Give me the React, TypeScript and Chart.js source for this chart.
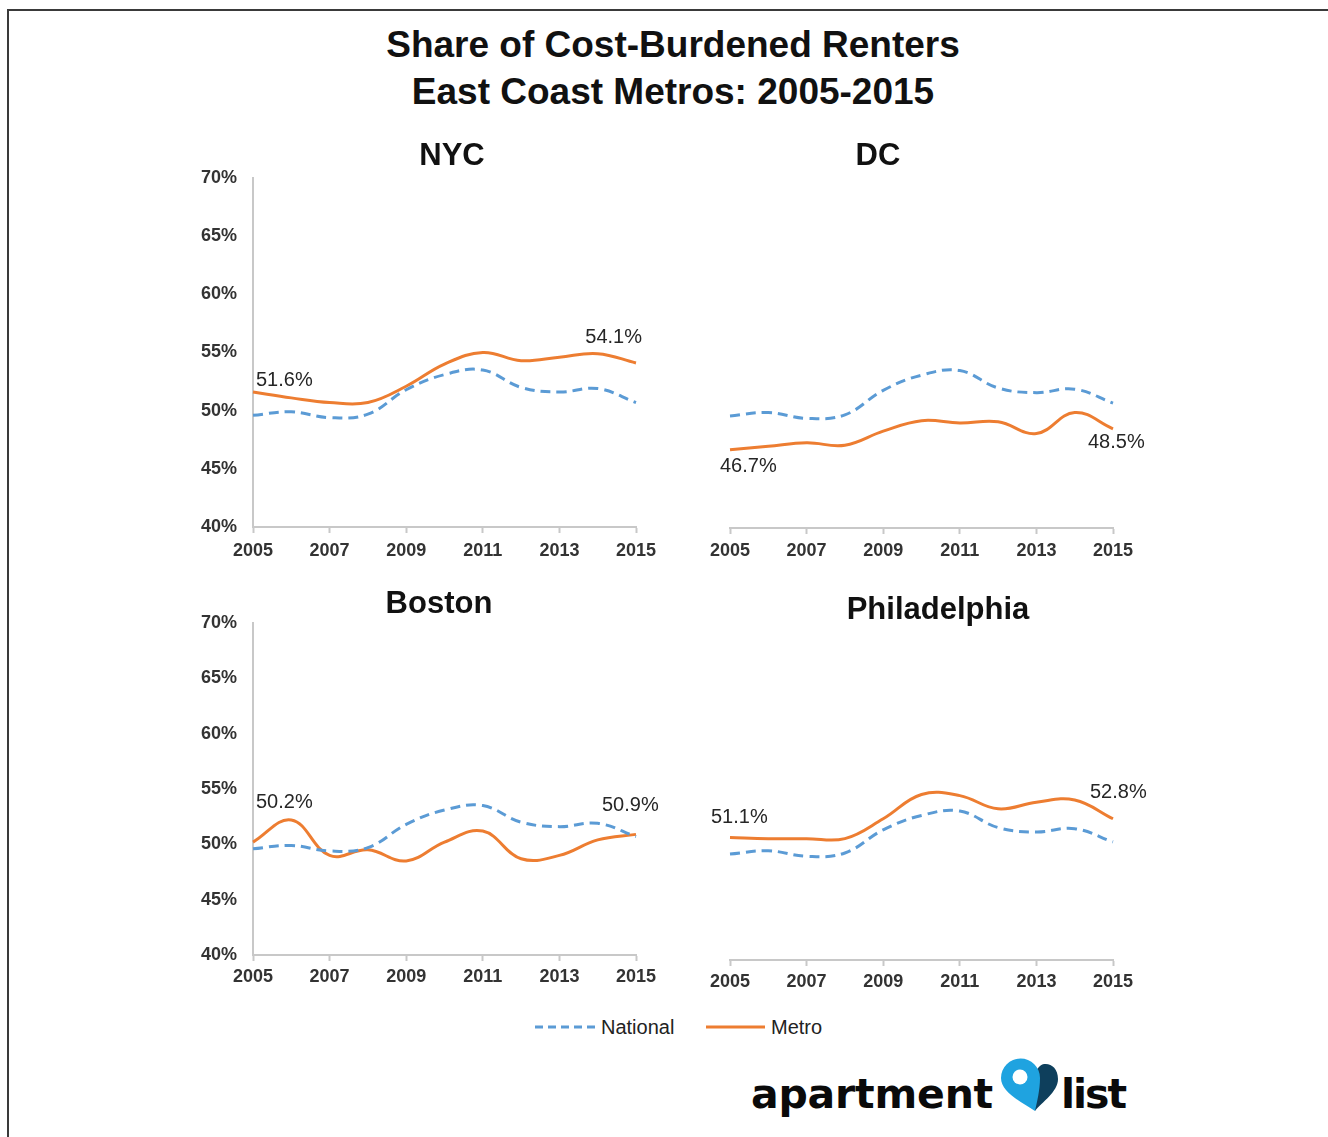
import React, { useEffect, useRef } from "react";
import { Chart, registerables } from "chart.js";

Chart.register(...registerables);

// ---------- data ----------
const years = ["2005", "2006", "2007", "2008", "2009", "2010", "2011", "2012", "2013", "2014", "2015"];
const nationalShare = [49.6, 49.9, 49.4, 49.7, 51.8, 53.1, 53.5, 52.0, 51.6, 51.9, 50.7];
const nycMetro = [51.6, 51.1, 50.7, 50.7, 52.1, 54.0, 55.0, 54.3, 54.6, 54.9, 54.1];
const dcMetro = [46.7, 47.0, 47.3, 47.1, 48.3, 49.2, 49.0, 49.1, 48.1, 49.9, 48.5];
const bostonMetro = [50.2, 52.2, 49.0, 49.5, 48.5, 50.2, 51.2, 48.7, 49.0, 50.4, 50.9];
const phillyMetro = [51.1, 51.0, 51.0, 51.0, 52.8, 55.0, 54.9, 53.7, 54.3, 54.5, 52.8];
const yMin = 40;
const yMax = 70;
const yStep = 5;
const seriesNames = ["National", "Metro"];

const BLUE = "#5B9BD5";
const ORANGE = "#ED7D31";
const FONT = 'Arial, "Liberation Sans", Helvetica, sans-serif';

type LabelSpec = { index: number; dx: number; dy: number; align: CanvasTextAlign };

const pointLabelPlugin = {
  id: "pointLabels",
  afterDatasetsDraw(chart: any, _args: any, opts: any) {
    const items: LabelSpec[] = opts.items || [];
    const ds = chart.data.datasets[opts.datasetIndex];
    const meta = chart.getDatasetMeta(opts.datasetIndex);
    const ctx = chart.ctx;
    items.forEach((it) => {
      const el = meta.data[it.index];
      if (!el) return;
      ctx.save();
      ctx.font = `20px ${FONT}`;
      ctx.fillStyle = "#262626";
      ctx.textAlign = it.align;
      ctx.textBaseline = "middle";
      ctx.fillText(`${Number(ds.data[it.index]).toFixed(1)}%`, el.x + it.dx, el.y + it.dy);
      ctx.restore();
    });
  },
};

type Box = { left: number; top: number; width: number; height: number };
type Area = { left: number; top: number; right: number; bottom: number };

function Panel(props: { box: Box; area: Area; metro: number[]; showY: boolean; labels: LabelSpec[]; tickPad: number }) {
  const ref = useRef<HTMLCanvasElement | null>(null);
  const { box, area, metro, showY, labels, tickPad } = props;
  useEffect(() => {
    if (!ref.current) return;
    const yWidth = area.left - box.left;
    const xHeight = box.top + box.height - area.bottom;
    const chart = new Chart(ref.current, {
      type: "line",
      data: {
        labels: years,
        datasets: [
          {
            label: seriesNames[0],
            data: nationalShare,
            borderColor: BLUE,
            borderWidth: 3,
            borderDash: [10, 6],
            pointRadius: 0,
            tension: 0.4,
            fill: false,
          },
          {
            label: seriesNames[1],
            data: metro,
            borderColor: ORANGE,
            borderWidth: 3,
            pointRadius: 0,
            tension: 0.4,
            fill: false,
          },
        ],
      },
      options: {
        animation: false,
        responsive: true,
        maintainAspectRatio: false,
        events: [],
        layout: {
          padding: {
            left: 0,
            top: area.top - box.top,
            right: box.left + box.width - area.right,
            bottom: 0,
          },
        },
        plugins: {
          legend: { display: false },
          tooltip: { enabled: false },
          title: { display: false },
          pointLabels: { datasetIndex: 1, items: labels },
        } as any,
        scales: {
          x: {
            type: "category",
            offset: false,
            afterFit: (s: any) => {
              s.height = xHeight;
            },
            border: { display: true, color: "#c8c8c8", width: 2 },
            grid: {
              display: true,
              drawOnChartArea: false,
              drawTicks: true,
              tickLength: 6,
              tickWidth: 2,
              tickColor: (c: any) => (c.index % 2 === 0 ? "#c8c8c8" : "rgba(0,0,0,0)"),
            },
            ticks: {
              autoSkip: false,
              maxRotation: 0,
              minRotation: 0,
              padding: tickPad,
              color: "#333333",
              font: { family: FONT, size: 18, weight: "bold" },
              callback: (_v: any, i: number) => (i % 2 === 0 ? years[i] : ""),
            },
          },
          y: {
            display: true,
            min: yMin,
            max: yMax,
            afterFit: (s: any) => {
              s.width = yWidth;
            },
            border: { display: showY, color: "#c8c8c8", width: 2 },
            grid: { display: true, drawOnChartArea: false, drawTicks: false },
            ticks: {
              display: showY,
              stepSize: yStep,
              padding: 16,
              color: "#333333",
              font: { family: FONT, size: 18, weight: "bold" },
              callback: (v: any) => `${v}%`,
            },
          },
        },
      },
      plugins: [pointLabelPlugin],
    });
    return () => chart.destroy();
  }, []);
  return (
    <div style={{ position: "absolute", left: box.left, top: box.top, width: box.width, height: box.height }}>
      <canvas ref={ref} />
    </div>
  );
}

const panelTitle = (text: string, cx: number, cy: number) => (
  <div
    key={text}
    style={{
      position: "absolute",
      left: cx - 200,
      top: cy - 20,
      width: 400,
      height: 40,
      lineHeight: "40px",
      textAlign: "center",
      fontFamily: FONT,
      fontWeight: "bold",
      fontSize: 31,
      color: "#111",
    }}
  >
    {text}
  </div>
);

export default function App() {
  return (
    <div
      style={{
        position: "absolute",
        left: 0,
        top: 0,
        width: 1328,
        height: 1137,
        background: "#fff",
        overflow: "hidden",
      }}
    >
      <div
        style={{
          position: "absolute",
          left: 7,
          top: 9,
          width: 1321,
          height: 1128,
          borderLeft: "2px solid #3a3a3a",
          borderTop: "2px solid #3a3a3a",
          boxSizing: "border-box",
        }}
      />
      <div
        style={{
          position: "absolute",
          left: 273,
          top: 21,
          width: 800,
          textAlign: "center",
          fontFamily: FONT,
          fontWeight: "bold",
          fontSize: 37,
          lineHeight: "47px",
          color: "#111",
        }}
      >
        Share of Cost-Burdened Renters
        <br />
        East Coast Metros: 2005-2015
      </div>

      <Panel
        box={{ left: 170, top: 130, width: 510, height: 445 }}
        area={{ left: 253, top: 178, right: 636, bottom: 527 }}
        metro={nycMetro}
        showY={true}
        tickPad={7}
        labels={[
          { index: 0, dx: 3, dy: -12, align: "left" },
          { index: 10, dx: 6, dy: -25, align: "right" },
        ]}
      />
      <Panel
        box={{ left: 690, top: 130, width: 480, height: 445 }}
        area={{ left: 730, top: 178, right: 1113, bottom: 528 }}
        metro={dcMetro}
        showY={false}
        tickPad={6}
        labels={[
          { index: 0, dx: -10, dy: 17, align: "left" },
          { index: 10, dx: -25, dy: 14, align: "left" },
        ]}
      />
      <Panel
        box={{ left: 170, top: 575, width: 510, height: 425 }}
        area={{ left: 253, top: 623, right: 636, bottom: 955 }}
        metro={bostonMetro}
        showY={true}
        tickPad={5}
        labels={[
          { index: 0, dx: 3, dy: -40, align: "left" },
          { index: 10, dx: -34, dy: -29, align: "left" },
        ]}
      />
      <Panel
        box={{ left: 690, top: 580, width: 480, height: 425 }}
        area={{ left: 730, top: 629, right: 1113, bottom: 960 }}
        metro={phillyMetro}
        showY={false}
        tickPad={5}
        labels={[
          { index: 0, dx: -19, dy: -20, align: "left" },
          { index: 10, dx: -23, dy: -26, align: "left" },
        ]}
      />

      {panelTitle("NYC", 452, 155)}
      {panelTitle("DC", 878, 155)}
      {panelTitle("Boston", 439, 603)}
      {panelTitle("Philadelphia", 938, 609)}

      {/* legend */}
      <svg style={{ position: "absolute", left: 530, top: 1015, width: 320, height: 26 }} width={320} height={26}>
        <line x1={5} y1={12} x2={67} y2={12} stroke={BLUE} strokeWidth={3} strokeDasharray="8 5" />
        <line x1={176} y1={12} x2={235} y2={12} stroke={ORANGE} strokeWidth={3} />
      </svg>
      <div
        style={{
          position: "absolute",
          left: 601,
          top: 1015,
          height: 24,
          lineHeight: "24px",
          fontFamily: FONT,
          fontSize: 20,
          color: "#222",
        }}
      >
        {seriesNames[0]}
      </div>
      <div
        style={{
          position: "absolute",
          left: 771,
          top: 1015,
          height: 24,
          lineHeight: "24px",
          fontFamily: FONT,
          fontSize: 20,
          color: "#222",
        }}
      >
        {seriesNames[1]}
      </div>

      {/* logo */}
      <div
        style={{
          position: "absolute",
          left: 751,
          top: 1069,
          lineHeight: "50px",
          height: 50,
          fontFamily: '"DejaVu Sans", sans-serif',
          fontWeight: "bold",
          fontSize: 41,
          color: "#0a0a0a",
          letterSpacing: "-0.2px",
        }}
      >
        apartment
      </div>
      <div
        style={{
          position: "absolute",
          left: 1061,
          top: 1069,
          lineHeight: "50px",
          height: 50,
          fontFamily: '"DejaVu Sans", sans-serif',
          fontWeight: "bold",
          fontSize: 41,
          color: "#0a0a0a",
          letterSpacing: "-2px",
        }}
      >
        list
      </div>
      <svg style={{ position: "absolute", left: 995, top: 1050, width: 70, height: 66 }} viewBox="995 1050 70 66" width={70} height={66}>
        <path
          d="M 1035 1111 C 1042 1102, 1058 1092, 1058 1079 C 1058 1068, 1051 1063, 1044 1064 C 1039 1065, 1036 1070, 1034 1076 Z"
          fill="#0e3f5c"
        />
        <path
          d="M 1035 1111 C 1021 1102, 1001 1092, 1001 1078 A 19.5 19.5 0 1 1 1040 1078 C 1040 1090, 1037 1102, 1035 1111 Z"
          fill="#1fa3e0"
        />
        <circle cx={1020} cy={1077} r={7.5} fill="#fff" />
      </svg>
    </div>
  );
}
